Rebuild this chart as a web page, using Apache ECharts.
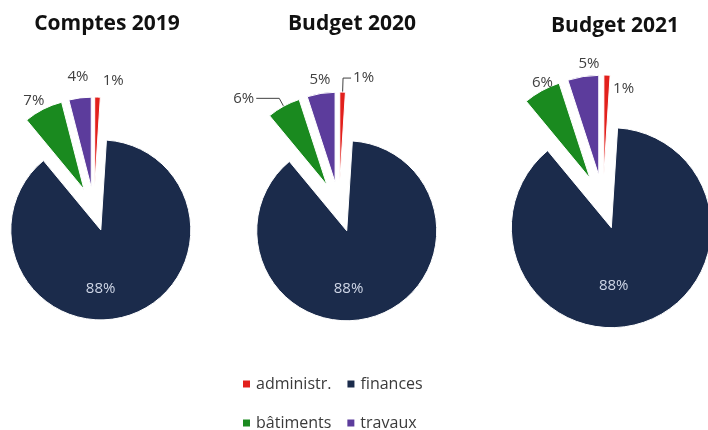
<!DOCTYPE html>
<html>
<head>
<meta charset="utf-8">
<script src="https://cdn.jsdelivr.net/npm/echarts@6/dist/echarts.min.js"></script>
<style>
  html, body { margin: 0; padding: 0; background: #fff; }
  #main { width: 708px; height: 430px; }
</style>
</head>
<body>
<div id="main"></div>
<script>
// categories, in legend order
const categories = ["administr.", "finances", "bâtiments", "travaux"];
const colors = ["#e2201c", "#1b2b4b", "#1a8a1f", "#5c3c9c"];

// shares in %, one array per chart
const comptes2019 = [1, 88, 7, 4];
const budget2020 = [1, 88, 6, 5];
const budget2021 = [1, 88, 6, 5];

const titles = ["Comptes 2019", "Budget 2020", "Budget 2021"];

// label nudges per slice (style only), same order as categories
const nudge2019 = [[3, -12], [-15, 13], [5, -5], [11, -17]];
const nudge2020 = [[0, 0], [-13, 12], [0, 0], [12, -10]];
const nudge2021 = [[4, 18], [-14, 8], [15, -4], [19, -9]];

// leader lines drawn on the 2020 chart: slice index -> [length, length2]
const leaders2020 = { 0: [14, 8], 2: [9, 23] };

const font = "Open Sans";

function pieSeries(values, nudges, center, radius, offset, leaders) {
  return {
    type: "pie",
    center: center,
    radius: radius,
    startAngle: 90,
    clockwise: true,
    selectedMode: "multiple",
    selectedOffset: offset,
    avoidLabelOverlap: false,
    labelLayout: function (p) {
      return { dx: nudges[p.dataIndex][0], dy: nudges[p.dataIndex][1], hideOverlap: false };
    },
    percentPrecision: 0,
    emphasis: { disabled: true },
    itemStyle: { borderColor: "#fff", borderWidth: 1 },
    label: {
      position: "outside",
      formatter: "{d}%",
      fontFamily: font,
      fontSize: 15,
      color: "#404040",
      distanceToLabelLine: 2,
    },
    labelLine: { show: false, length: 4, length2: 0, lineStyle: { color: "#404040", width: 1 } },
    data: values.map(function (v, i) {
      const item = {
        name: categories[i],
        value: v,
        selected: true,
        itemStyle: { color: colors[i] },
      };
      if (leaders[i]) {
        item.labelLine = { show: true, length: leaders[i][0], length2: leaders[i][1] };
      }
      if (categories[i] === "finances") {
        item.label = { position: "inside", color: "#cfd6e6" };
      }
      return item;
    }),
  };
}

const legendText = { fontFamily: font, fontSize: 16, color: "#3a3a3a", width: 86 };

const chart = echarts.init(document.getElementById("main"));
chart.setOption({
  animation: false,
  title: [
    { text: titles[0], left: 102, top: 9 },
    { text: titles[1], left: 347, top: 9 },
    { text: titles[2], left: 610, top: 11 },
  ].map(function (t) {
    return Object.assign(t, {
      textAlign: "center",
      textStyle: { fontFamily: font, fontSize: 21, fontWeight: "bold", color: "#111" },
    });
  }),
  legend: [
    {
      data: categories.slice(0, 2),
      left: 236,
      top: 371,
      itemWidth: 9,
      itemHeight: 9,
      icon: "rect",
      itemGap: 14,
      selectedMode: false,
      textStyle: legendText,
    },
    {
      data: categories.slice(2),
      left: 236,
      top: 410,
      itemWidth: 9,
      itemHeight: 9,
      icon: "rect",
      itemGap: 14,
      selectedMode: false,
      textStyle: legendText,
    },
  ],
  series: [
    pieSeries(comptes2019, nudge2019, [94, 209], 90, 22, {}),
    pieSeries(budget2020, nudge2020, [339, 207], 90, 25, leaders2020),
    pieSeries(budget2021, nudge2021, [603, 202], 100, 27, {}),
  ],
});
</script>
</body>
</html>
